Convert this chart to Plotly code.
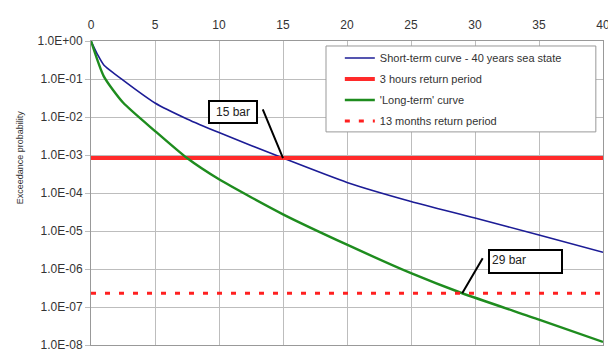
import numpy as np
import plotly.graph_objects as go

# Stress range axis (bar) and exceedance probabilities
short_x = [0, 0.5, 1, 2.5, 5, 7.5, 10, 15, 20, 25, 30, 35, 40]
short_p = [1.0, 0.447, 0.234, 0.0933, 0.0234, 8.9e-3, 3.9e-3, 8.3e-4, 1.9e-4, 6.0e-5, 2.2e-5, 7.8e-6, 2.75e-6]

long_x = [0, 1, 2.5, 5, 7.5, 10, 15, 20, 25, 29, 35, 40]
long_p = [1.0, 0.1175, 0.024, 4.27e-3, 8.3e-4, 2.29e-4, 2.75e-5, 4.37e-6, 7.76e-7, 2.3e-7, 4.68e-8, 1.2e-8]

# Return-period probability levels
p_3h = 8.3e-4
p_13m = 2.3e-7
x_span = [0, 40]

# Labelled crossings (bar)
label_15 = 15
label_29 = 29

x_ticks = list(range(0, 41, 5))
y_exps = list(range(0, -9, -1))
y_ticktext = ["1.0E+00", "1.0E-01", "1.0E-02", "1.0E-03", "1.0E-04",
              "1.0E-05", "1.0E-06", "1.0E-07", "1.0E-08"]

FONT = "Arial, Liberation Sans, sans-serif"

fig = go.Figure()
fig.add_trace(go.Scatter(
    x=short_x, y=short_p, mode="lines", name="Short-term curve - 40 years sea state",
    legendgroup="a", line=dict(color="#1c1c96", width=1.6, shape="spline", smoothing=0.6)))
fig.add_trace(go.Scatter(
    x=x_span, y=[p_3h, p_3h], mode="lines", name="3 hours return period",
    legendgroup="b", line=dict(color="#ff2a2a", width=4)))
fig.add_trace(go.Scatter(
    x=long_x, y=long_p, mode="lines", name="'Long-term' curve",
    legendgroup="c", line=dict(color="#1e8c1e", width=2.4, shape="spline", smoothing=0.6)))
fig.add_trace(go.Scatter(
    x=x_span, y=[p_13m, p_13m], mode="lines", name="13 months return period",
    legendgroup="d", line=dict(color="#ff2020", width=3, dash="5px,9px")))

# Value boxes with leader lines
fig.add_annotation(x=11.07, y=-1.88, xref="x", yref="y", text="15 bar",
                   showarrow=False, font=dict(family=FONT, size=12, color="#222"),
                   bgcolor="white", bordercolor="black", borderwidth=2, borderpad=2,
                   width=42, height=16)
fig.add_annotation(x=label_15, y=np.log10(p_3h), xref="x", yref="y",
                   ax=13.37, ay=-1.76, axref="x", ayref="y", text="",
                   showarrow=True, arrowhead=0, arrowwidth=2, arrowcolor="black", standoff=0)
fig.add_annotation(x=33.94, y=-5.80, xref="x", yref="y", text="29 bar",
                   showarrow=False, font=dict(family=FONT, size=12, color="#222"),
                   bgcolor="white", bordercolor="black", borderwidth=2, borderpad=2,
                   width=67, height=17, align="left", valign="top")
fig.add_annotation(x=label_29, y=np.log10(p_13m), xref="x", yref="y",
                   ax=30.67, ay=-5.68, axref="x", ayref="y", text="",
                   showarrow=True, arrowhead=0, arrowwidth=2, arrowcolor="black", standoff=0)

# Rotated y-axis title
fig.add_annotation(x=-0.152, y=0.618, xref="paper", yref="paper",
                   text="Exceedance probability", textangle=-90, showarrow=False,
                   font=dict(family=FONT, size=9, color="#333"))

# Legend frame
fig.add_shape(type="rect", xref="paper", yref="paper",
              x0=0.459, x1=0.986, y0=0.701, y1=0.9836,
              fillcolor="white", line=dict(color="#999", width=1), layer="above")

fig.update_layout(
    width=608, height=351,
    margin=dict(l=91, r=5, t=41, b=6),
    paper_bgcolor="white", plot_bgcolor="white",
    font=dict(family=FONT, size=12, color="#333"),
    showlegend=True,
    legend=dict(x=0.486, y=0.992, xanchor="left", yanchor="top",
                bgcolor="rgba(0,0,0,0)", borderwidth=0,
                font=dict(family=FONT, size=11, color="#333"),
                itemwidth=30, tracegroupgap=2),
    xaxis=dict(side="top", range=[0, 40], tickvals=x_ticks,
               showgrid=True, gridcolor="#bdbdbd", gridwidth=1,
               showline=True, linecolor="#999", mirror=True,
               ticks="", ticklabelstandoff=6, zeroline=False,
               ticklabeloverflow="allow", automargin=False,
               tickfont=dict(family=FONT, size=12, color="#333")),
    yaxis=dict(type="log", range=[-8, 0],
               tickvals=[10.0 ** e for e in y_exps], ticktext=y_ticktext,
               showgrid=True, gridcolor="#bdbdbd", gridwidth=1,
               showline=True, linecolor="#999", mirror=True,
               ticks="outside", ticklen=5, tickcolor="#bdbdbd",
               ticklabeloverflow="allow", automargin=False,
               tickfont=dict(family=FONT, size=12, color="#333")),
)

fig.write_html("out.html")
